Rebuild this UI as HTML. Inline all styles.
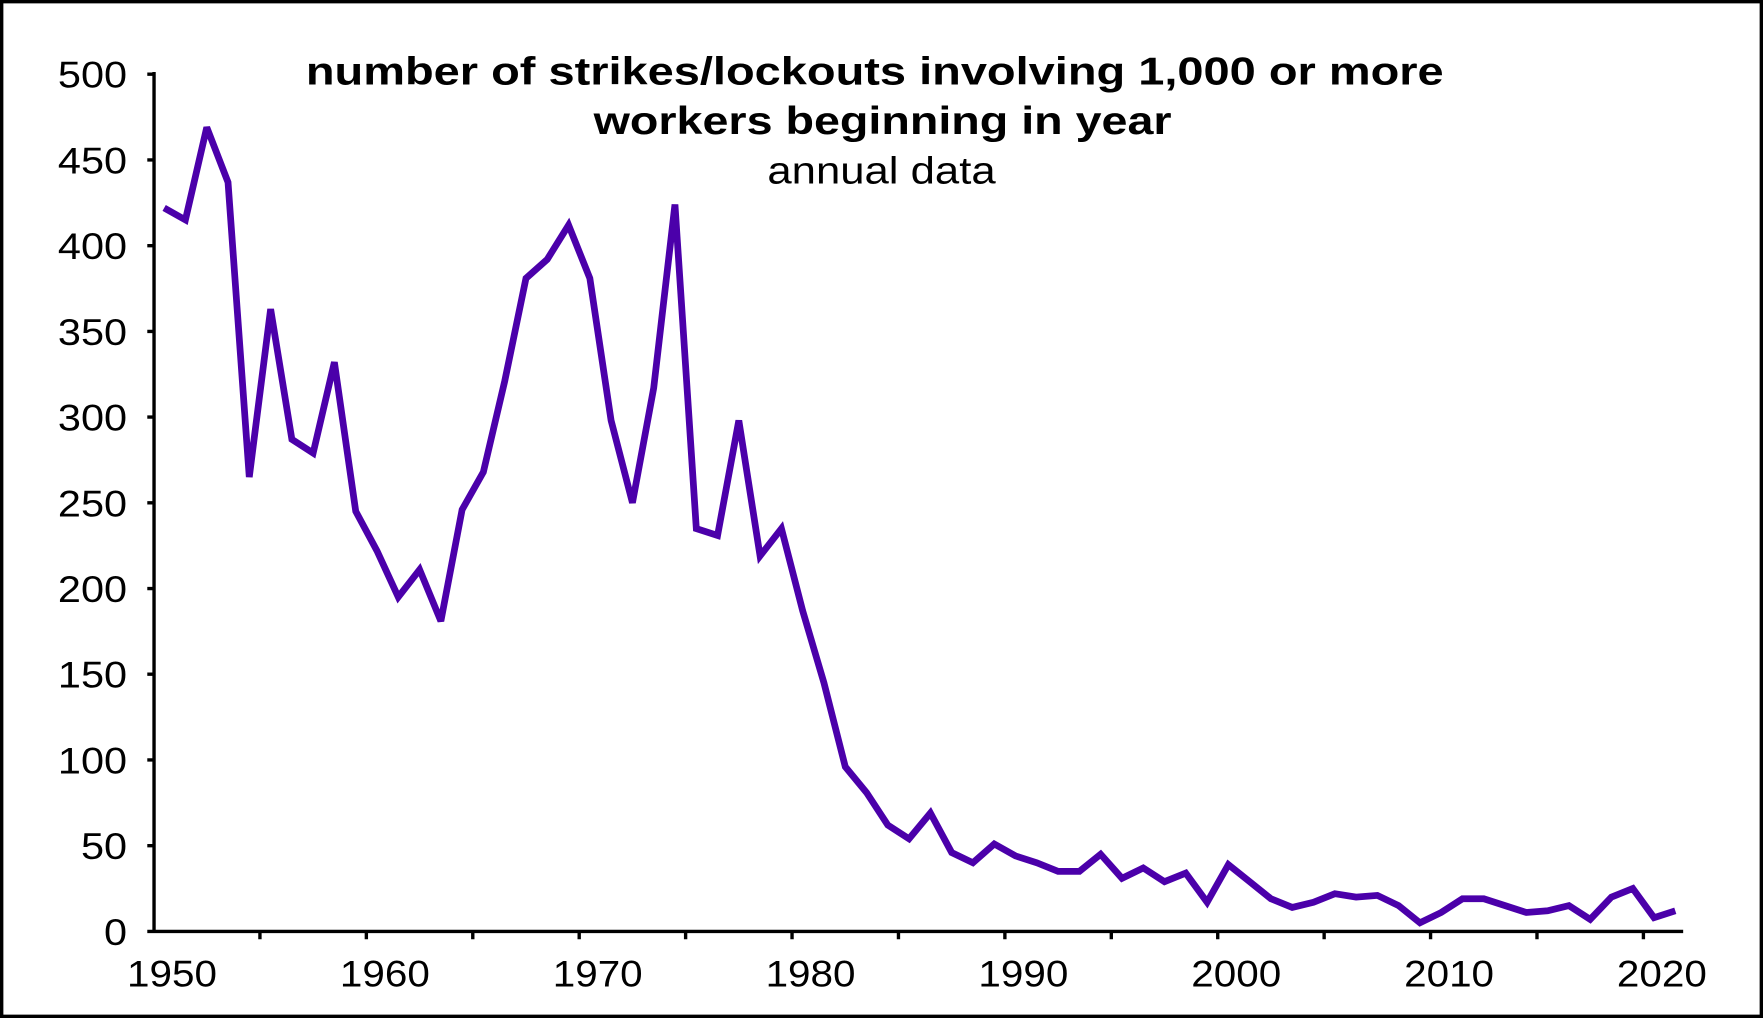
<!DOCTYPE html>
<html><head><meta charset="utf-8"><style>
html,body{margin:0;padding:0;background:#fff;}
svg{display:block;}
text{font-family:"Liberation Sans Narrow","Liberation Sans",sans-serif;fill:#000;}
</style></head><body>
<svg id="s" width="1763" height="1018" viewBox="0 0 1568 905" preserveAspectRatio="none" xmlns="http://www.w3.org/2000/svg">
<rect x="1.5" y="1.5" width="1565" height="902" fill="#fff" stroke="#000" stroke-width="3"/>
<g id="axes" stroke="#000" stroke-width="3" fill="none"></g>
<g id="lab" font-size="33"></g>
<text x="778" y="75" font-size="35" font-weight="bold" text-anchor="middle" textLength="1012" lengthAdjust="spacingAndGlyphs">number of strikes/lockouts involving 1,000 or more</text>
<text x="785" y="119" font-size="35" font-weight="bold" text-anchor="middle" textLength="514" lengthAdjust="spacingAndGlyphs">workers beginning in year</text>
<text x="784" y="163" font-size="34" text-anchor="middle" textLength="203" lengthAdjust="spacingAndGlyphs">annual data</text>
<polyline id="line" fill="none" stroke="#4B00AA" stroke-width="6" stroke-linejoin="miter" stroke-miterlimit="3"/>
</svg>
<script>
var d=[422,415,469,437,265,363,287,279,332,245,222,195,211,181,246,268,321,381,392,412,381,298,250,317,424,235,231,298,219,235,187,145,96,81,62,54,69,46,40,51,44,40,35,35,45,31,37,29,34,17,39,29,19,14,17,22,20,21,15,5,11,19,19,15,11,12,15,7,20,25,8,12];
function X(i){return 146+i*18.93;}function Y(v){return 828-v*1.524;}
document.getElementById('line').setAttribute('points',d.map(function(v,i){return X(i).toFixed(1)+','+Y(v).toFixed(1);}).join(' '));
var ns='http://www.w3.org/2000/svg',a=document.getElementById('axes'),l=document.getElementById('lab'),p='M137,64V828H1497';
for(var v=0;v<=500;v+=50){var y=Y(v);p+='M131,'+y+'H137';var t=document.createElementNS(ns,'text');t.setAttribute('x',113);t.setAttribute('y',y+12);t.setAttribute('text-anchor','end');t.setAttribute('textLength',String(v).length*20.5);t.setAttribute('lengthAdjust','spacingAndGlyphs');t.textContent=v;l.appendChild(t);}
for(var k=0;k<15;k++){var x=X(4.5+k*5);if(x<1497)p+='M'+x+',828V835';}
for(var yr=1950;yr<=2020;yr+=10){var t=document.createElementNS(ns,'text');t.setAttribute('x',X(yr-1950)+7);t.setAttribute('y',877);t.setAttribute('text-anchor','middle');t.setAttribute('textLength',80);t.setAttribute('lengthAdjust','spacingAndGlyphs');t.textContent=yr;l.appendChild(t);}
var pa=document.createElementNS(ns,'path');pa.setAttribute('d',p);a.appendChild(pa);
</script>
</body></html>
